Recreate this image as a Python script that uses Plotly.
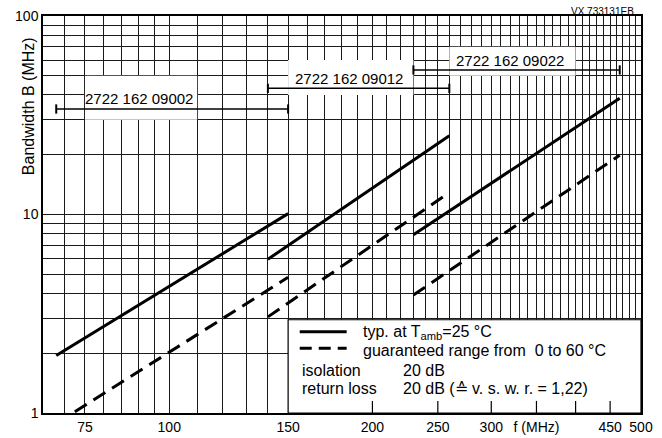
import math
import plotly.graph_objects as go

# ---------------- data ----------------
type_numbers = ["2722 162 09002", "2722 162 09012", "2722 162 09022"]
range_lo = [68, 140, 230]        # MHz, frequency range of each type
range_hi = [150, 260, 465]

# typical bandwidth at Tamb = 25 degC (solid lines): [start, end]
typ_f = [[68, 150], [140, 260], [230, 465]]
typ_b = [[1.95, 10.1], [5.95, 24.9], [7.9, 38.5]]

# guaranteed range 0..60 degC (dashed lines)
guar_f = [[68, 150], [140, 260], [230, 465]]
guar_b = [[0.885, 4.83], [3.05, 12.9], [3.93, 19.9]]

# grid / tick definitions
x_grid = [70, 75, 80, 85, 90, 95] + list(range(100, 501, 10))
x_labels = {75: "75", 100: "100", 150: "150", 200: "200", 250: "250",
            300: "300", 350: "f (MHz)", 450: "450", 500: "500"}
y_grid = list(range(1, 10)) + list(range(10, 101, 10))
y_labels = {1: "1", 10: "10", 100: "100"}

# ---------------- layout constants ----------------
FONT = "Liberation Sans, Arial, sans-serif"
bar_level = [34, 43.2, 53.5]              # height of the range bars
label_pos = [(0.161, 0.793), (0.511, 0.843), (0.781, 0.889)]
label_boxes = [(75, 110, 30, 50), (150, 230, 40, 60), (260, 400, 50, 70)]
legend_box = (150, 500, 1, 2.95)
stub_x = [200, 250, 300, 350, 400, 450]
CAP = 1.055

fig = go.Figure()

# range bars with end caps
for lo, hi, lvl in zip(range_lo, range_hi, bar_level):
    fig.add_trace(go.Scatter(x=[lo, hi], y=[lvl, lvl], mode="lines",
                             line=dict(color="black", width=1.5),
                             hoverinfo="skip", showlegend=False))
    fig.add_trace(go.Scatter(x=[lo, lo, None, hi, hi],
                             y=[lvl / CAP, lvl * CAP, None, lvl / CAP, lvl * CAP],
                             mode="lines", line=dict(color="black", width=2),
                             hoverinfo="skip", showlegend=False))

# typical (solid)
for fx, by in zip(typ_f, typ_b):
    fig.add_trace(go.Scatter(x=fx, y=by, mode="lines",
                             line=dict(color="black", width=3),
                             showlegend=False))
# guaranteed (dashed)
for fx, by in zip(guar_f, guar_b):
    fig.add_trace(go.Scatter(x=fx, y=by, mode="lines",
                             line=dict(color="black", width=3, dash="14px,8px"),
                             showlegend=False))

shapes = []
for (x0, x1, y0, y1) in label_boxes:
    shapes.append(dict(type="rect", xref="x", yref="y", x0=x0, x1=x1, y0=y0, y1=y1,
                       fillcolor="white", line=dict(width=0), layer="between"))
x0, x1, y0, y1 = legend_box
shapes.append(dict(type="rect", xref="x", yref="y", x0=x0, x1=x1, y0=y0, y1=y1,
                   fillcolor="white", line=dict(color="black", width=1.2), layer="between"))
for sx in stub_x:
    shapes.append(dict(type="line", xref="x", yref="y", x0=sx, x1=sx, y0=1, y1=1.15,
                       line=dict(color="black", width=1.2), layer="between"))
# legend samples
shapes.append(dict(type="line", xref="paper", yref="paper", x0=0.4293, x1=0.5078,
                   y0=0.2048, y1=0.2048, line=dict(color="black", width=3)))
shapes.append(dict(type="line", xref="paper", yref="paper", x0=0.4293, x1=0.5078,
                   y0=0.163, y1=0.163, line=dict(color="black", width=3, dash="12px,7px")))

ann = []
for txt, (px, py) in zip(type_numbers, label_pos):
    ann.append(dict(text=txt, xref="paper", yref="paper", x=px, y=py,
                    xanchor="center", yanchor="middle", showarrow=False,
                    font=dict(family=FONT, size=15, color="black")))

leg_font = dict(family=FONT, size=16, color="black")
ann += [
    dict(text="typ. at T<sub>amb</sub>=25 °C", x=0.532, y=0.203, xanchor="left"),
    dict(text="guaranteed range from  0 to 60 °C", x=0.532, y=0.158, xanchor="left"),
    dict(text="isolation", x=0.4293, y=0.108, xanchor="left"),
    dict(text="20 dB", x=0.599, y=0.108, xanchor="left"),
    dict(text="return loss", x=0.4293, y=0.062, xanchor="left"),
    dict(text="20 dB (≙ v. s. w. r. = 1,22)", x=0.599, y=0.062, xanchor="left"),
]
for a in ann[3:]:
    a.update(xref="paper", yref="paper", yanchor="middle", showarrow=False, font=leg_font)

ann.append(dict(text="Bandwidth B (MHz)", xref="paper", yref="paper", x=-0.025, y=0.773,
                textangle=-90, xanchor="center", yanchor="middle", showarrow=False,
                font=dict(family=FONT, size=16, color="black")))
ann.append(dict(text="VX 733131EB", xref="paper", yref="paper", x=0.936, y=1.011,
                xanchor="center", yanchor="middle", showarrow=False,
                font=dict(family=FONT, size=10, color="black")))

fig.update_layout(
    width=662, height=438,
    margin=dict(l=43, r=21, t=16, b=25),
    paper_bgcolor="white", plot_bgcolor="white",
    shapes=shapes, annotations=ann, showlegend=False,
    xaxis=dict(type="log", range=[math.log10(65), math.log10(500)],
               tickmode="array", tickvals=x_grid,
               ticktext=[x_labels.get(v, "") for v in x_grid],
               showgrid=True, gridcolor="#1a1a1a", gridwidth=1,
               showline=True, mirror=True, linecolor="black", linewidth=1.5,
               ticks="", zeroline=False, automargin=False,
               tickfont=dict(family=FONT, size=14, color="black")),
    yaxis=dict(type="log", range=[0, 2],
               tickmode="array", tickvals=y_grid,
               ticktext=[y_labels.get(v, "") for v in y_grid],
               showgrid=True, gridcolor="#1a1a1a", gridwidth=1,
               showline=True, mirror=True, linecolor="black", linewidth=1.5,
               ticks="", zeroline=False, automargin=False,
               tickfont=dict(family=FONT, size=14, color="black")),
)

# remove the default 8 px page margin so the figure fills the window exactly
fig.write_html("out.html", config={"displayModeBar": False},
               post_script="document.body.style.margin='0px';")
